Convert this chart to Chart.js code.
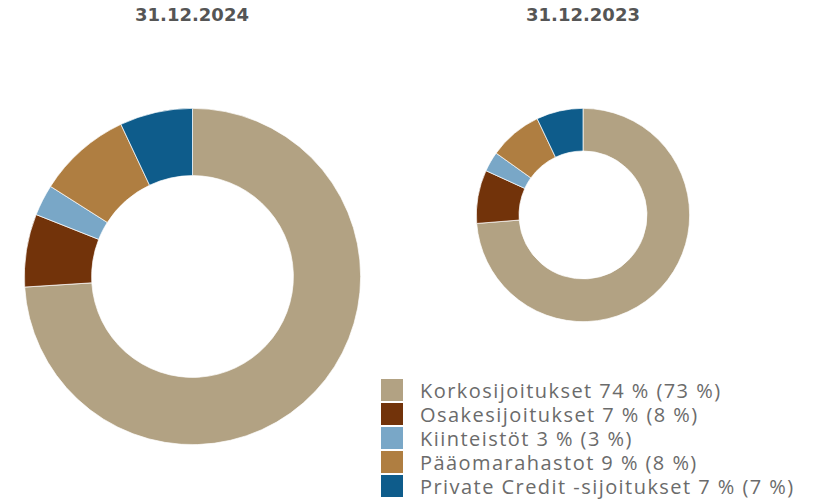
<!DOCTYPE html>
<html>
<head>
<meta charset="utf-8">
<script src="https://cdn.jsdelivr.net/npm/chart.js@4"></script>
<style>
  html, body { margin: 0; padding: 0; background: #fff; }
  body { width: 816px; height: 500px; position: relative; overflow: hidden; }
  .title { position: absolute; top: 4px; width: 200px; text-align: center;
           font-family: "DejaVu Sans", sans-serif; font-weight: bold; font-size: 18px; color: #555; }
  .wrap { position: absolute; }
  #legend { position: absolute; left: 381px; top: 378px; font-family: "Open Sans", sans-serif;
            font-size: 20px; letter-spacing: 1.45px; color: #6b6b6b; }
  .item { display: flex; align-items: center; height: 24px; white-space: nowrap; }
  .box { width: 22px; height: 22px; margin-right: 17px; flex: none; }
</style>
</head>
<body>
<div class="title" style="left:92px">31.12.2024</div>
<div class="title" style="left:483px">31.12.2023</div>
<div class="wrap" style="left:24px;top:108px;width:337px;height:337px"><canvas id="c1" width="337" height="337"></canvas></div>
<div class="wrap" style="left:476px;top:108px;width:214px;height:214px"><canvas id="c2" width="214" height="214"></canvas></div>
<div id="legend"></div>
<script>
const categories = ["Korkosijoitukset", "Osakesijoitukset", "Kiinteistöt", "Pääomarahastot", "Private Credit -sijoitukset"];
const values2024 = [74, 7, 3, 9, 7];
const values2023 = [73, 8, 3, 8, 7];
const colors = ["#B2A283", "#72330A", "#79A7C7", "#AF7E41", "#0E5C8B"];

function makeChart(id, values) {
  return new Chart(document.getElementById(id), {
    type: "doughnut",
    data: { labels: categories, datasets: [{ data: values, backgroundColor: colors, borderColor: "#ffffff", borderWidth: 0.7 }] },
    options: {
      responsive: false, animation: false, cutout: "60%",
      layout: { padding: 0 },
      plugins: { legend: { display: false }, tooltip: { enabled: false } }
    }
  });
}
makeChart("c1", values2024);
makeChart("c2", values2023);

const legend = document.getElementById("legend");
categories.forEach((cat, i) => {
  const item = document.createElement("div");
  item.className = "item";
  const box = document.createElement("span");
  box.className = "box";
  box.style.background = colors[i];
  const txt = document.createElement("span");
  txt.textContent = `${cat} ${values2024[i]} % (${values2023[i]} %)`;
  item.appendChild(box); item.appendChild(txt);
  legend.appendChild(item);
});
</script>
</body>
</html>
